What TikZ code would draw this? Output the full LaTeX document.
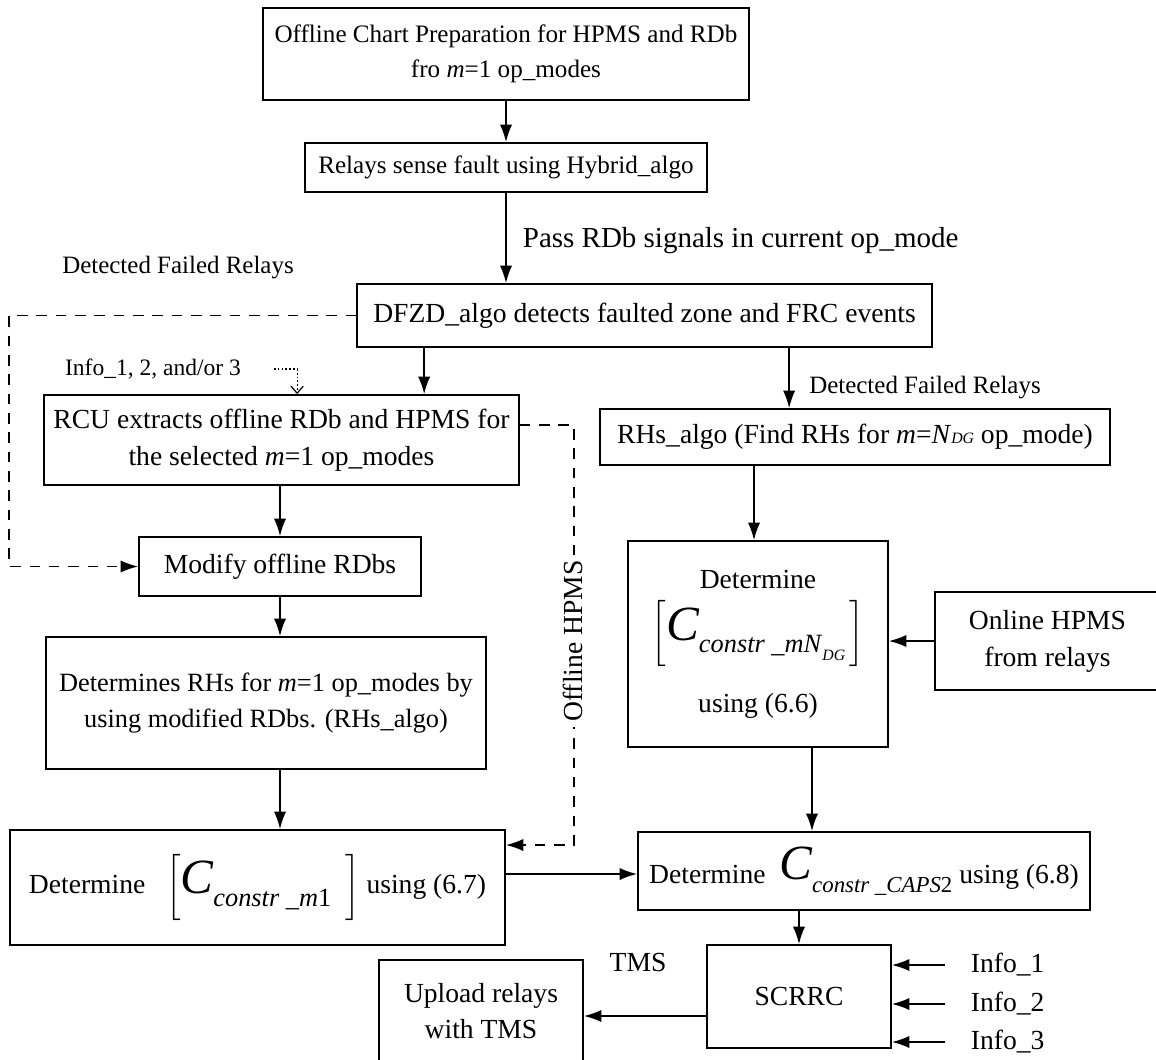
\documentclass[tikz,border=0pt]{standalone}
\usepackage{amsmath,amssymb}
\usepackage{fontspec}
\setmainfont{Liberation Serif}
\usepackage{xcolor}
\usepackage{tikz}
\usetikzlibrary{shapes,arrows.meta,positioning}

\newcommand{\bigC}[2]{{\fontsize{28}{28}\selectfont\itshape C}\raisebox{-0.45em}{\fontsize{#1}{#1}\selectfont #2}}

\begin{document}
\begin{tikzpicture}[x=0.02cm, y=-0.02cm, line width=1pt, font=\fontsize{15.7}{21}\selectfont]
\tikzstyle{box} = [rectangle, draw, inner sep=0pt, align=center]
\tikzstyle{lbl} = [inner sep=0pt, font=\fontsize{14.2}{17}\selectfont]
\tikzstyle{arrow} = [-{Latex[length=10pt,width=7pt]}]
\tikzstyle{dasharrow} = [arrow, dash pattern=on 6pt off 5pt]
\tikzstyle{dotarrow} = [-{Straight Barb[length=4pt,width=7pt]}, line width=0.7pt, dash pattern=on 1pt off 1.2pt]

\useasboundingbox (0,0) rectangle (1156,1059);

\node [box, minimum width=9.72cm, minimum height=1.84cm, font=\fontsize{14.3}{20}\selectfont] (prep) at (506,54) {Offline Chart Preparation for HPMS and RDb\\fro \textit{m}=1 op\_modes};
\node [box, minimum width=8.04cm, minimum height=0.98cm, font=\fontsize{14.3}{20}\selectfont] (sense) at (506,167.5) {Relays sense fault using Hybrid\_algo};
\node [box, minimum width=11.5cm, minimum height=1.26cm] (dfzd) at (644.5,315.5) {DFZD\_algo detects faulted zone and FRC events};
\node [box, minimum width=9.5cm, minimum height=1.8cm] (rcu) at (281.5,440) {RCU extracts offline RDb and HPMS for\\the selected \textit{m}=1 op\_modes};
\node [box, minimum width=10.2cm, minimum height=1.12cm] (rhs) at (855,437) {RHs\_algo (Find RHs for \textit{m}=\textit{N}{\small\textit{DG}} op\_mode)};
\node [box, minimum width=5.64cm, minimum height=1.18cm] (modify) at (280,566.5) {Modify offline RDbs};
\node [box, minimum width=8.8cm, minimum height=2.64cm, font=\fontsize{15}{21}\selectfont] (detrh) at (266,703) {Determines RHs for \textit{m}=1 op\_modes by\\using modified RDbs. (RHs\_algo)};
\node [box, minimum width=5.2cm, minimum height=4.12cm] (detng) at (758,644) {Determine\\[6pt]$\bigg[$\bigC{15}{\textit{constr \_mN}\raisebox{-0.3em}{\small\textit{DG}}}\,$\bigg]$\\[14pt]using (6.6)};
\node [box, minimum width=4.5cm, minimum height=1.96cm] (online) at (1047.5,641) {Online HPMS\\from relays};
\node [box, minimum width=9.9cm, minimum height=2.3cm] (detm) at (257.5,887.5) {Determine\ \ \ $\bigg[$\bigC{15}{\textit{constr \_m}1}\ \ $\bigg]$ using (6.7)};
\node [box, minimum width=9.04cm, minimum height=1.56cm] (detcaps) at (864,871) {Determine\ \ \raisebox{0.15em}{\bigC{13}{\textit{constr \_CAPS}2}}\ using (6.8)};
\node [box, minimum width=3.68cm, minimum height=2.06cm] (scrrc) at (799,996.5) {SCRRC};
\node [box, minimum width=4.08cm, minimum height=2.04cm] (upload) at (481,1011) {Upload relays\\with TMS};

\node [lbl] (dfr1) at (178,268) {Detected Failed Relays};
\node [lbl] (dfr2) at (925,388) {Detected Failed Relays};
\node [lbl, font=\fontsize{13.4}{16}\selectfont] (info) at (153,369) {Info\_1, 2, and/or 3};
\node [inner sep=0pt, anchor=west, font=\fontsize{16.5}{20}\selectfont] (pass) at (522,241) {Pass RDb signals in current op\_mode};
\node [inner sep=0pt] (tms) at (638,962) {TMS};
\node [inner sep=0pt, anchor=west] (i1) at (970,965) {Info\_1};
\node [inner sep=0pt, anchor=west] (i2) at (970,1004) {Info\_2};
\node [inner sep=0pt, anchor=west] (i3) at (970,1042) {Info\_3};

\draw [arrow] (prep) -- (sense);
\draw [arrow] (sense.south) -- (sense.south |- dfzd.north);
\draw [arrow] ([xshift=1.36cm]dfzd.south west) -- ([xshift=1.36cm]dfzd.south west |- rcu.north);
\draw [arrow] ([xshift=3.8cm]rhs.north west |- dfzd.south) -- ([xshift=3.8cm]rhs.north west);
\draw [dasharrow] (dfzd.west) -- ++(-347,0) |- (modify.west);
\draw [dotarrow] ([xshift=0.64cm]info.east) -| ([xshift=5.08cm]rcu.north west);
\draw [arrow] (modify.north |- rcu.south) -- (modify.north);
\draw [arrow] (modify.south) -- (modify.south |- detrh.north);
\draw [arrow] (modify.south |- detrh.south) -- (modify.south |- detm.north);
\draw [dasharrow] ([yshift=0.3cm]rcu.east) -- ++(54,0) |- ([yshift=0.85cm]detm.east);
\node [rotate=90, fill=white, inner sep=3pt] (offl) at (573,641) {Offline HPMS};
\draw [arrow] ([xshift=-0.08cm]detng.north |- rhs.south) -- ([xshift=-0.08cm]detng.north);
\draw [arrow] (online.west) -- (online.west -| detng.east);
\draw [arrow] ([yshift=0.27cm]detm.east) -- ([yshift=0.27cm]detm.east -| detcaps.west);
\draw [arrow] ([xshift=1.08cm]detng.south) -- ([xshift=1.08cm]detng.south |- detcaps.north);
\draw [arrow] (scrrc.north |- detcaps.south) -- (scrrc.north);
\draw [arrow] ([yshift=-0.39cm]scrrc.west) -- ([yshift=-0.39cm]scrrc.west -| upload.east);
\draw [arrow] ([xshift=-0.5cm]i1.west) -- (i1.west -| scrrc.east);
\draw [arrow] ([xshift=-0.5cm]i2.west) -- (i2.west -| scrrc.east);
\draw [arrow] ([xshift=-0.5cm]i3.west) -- (i3.west -| scrrc.east);
\end{tikzpicture}
\end{document}
